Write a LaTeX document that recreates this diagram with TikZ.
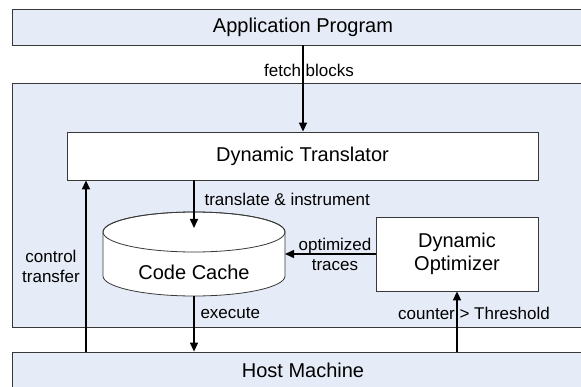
\documentclass[tikz,border=0pt]{standalone}
\usepackage{fontspec}
\setmainfont{Liberation Sans}
\usetikzlibrary{arrows.meta}

\definecolor{layerblue}{HTML}{E6ECF7}
\definecolor{boxline}{HTML}{383838}

\begin{document}
\begin{tikzpicture}[x=1pt,y=1pt,
    every node/.style={font=\fontsize{17}{20}\selectfont, align=center},
    bigtext/.style={font=\fontsize{20}{23}\selectfont},
    layer/.style={draw=boxline, line width=0.8pt, fill=layerblue,
      minimum width=582, minimum height=36, bigtext},
    unit/.style={draw=boxline, line width=0.8pt, fill=white, bigtext},
    flow/.style={line width=1.5pt, -{Triangle[length=9pt,width=8pt]}}]

  \useasboundingbox (0,0) rectangle (581,386);

  % ==================================================
  % Layers: program on top, machine at the bottom
  % ==================================================
  %    runtime layer in the middle (drawn first, it sits behind)
  \draw[draw=boxline, line width=0.8pt, fill=layerblue] (12,59) rectangle (594,303);

  \node[layer] (app) at (303,359) {Application Program};
  \node[layer] (host) at (303,16) {Host Machine};

  % ==================================================
  % Runtime parts
  % ==================================================
  \node[unit, minimum width=471, minimum height=48] (trans) at (302.5,230)
  {Dynamic Translator};
  \node[unit, minimum width=162, minimum height=74] (opt) at (457,132)
  {Dynamic\\Optimizer};

  % -- Code cache: a cylinder, rx=91, ry=20
  \draw[draw=boxline, line width=0.8pt, fill=white]
  (103,154) -- (103,110)
  arc[start angle=180, end angle=360, x radius=91, y radius=20]
  -- (285,154)
  arc[start angle=0, end angle=180, x radius=91, y radius=20] -- cycle;
  \draw[draw=boxline, line width=0.8pt] (194,154) ellipse[x radius=91, y radius=20];
  \node[bigtext] (cache) at (194,114) {Code Cache};

  %    ends of the arrows on the cylinder
  \coordinate (cachein) at (194,158);
  \coordinate (cacheout) at (194,90);
  \coordinate (cacheside) at (285,132);
  \coordinate (ctl) at (86,0);

  % ==================================================
  % Arrows & labels
  % ==================================================
  \draw[flow] (app.south) -- (app.south |- trans.north);
  \node (fetchlbl) at (309,316) {fetch blocks};

  \draw[flow] (trans.south -| cachein) -- (cachein);
  \node[anchor=west] (translbl) at (201,187) {translate \& instrument};

  \draw[flow] (opt.west) -- (cacheside);
  \node (tracelbl) at (335,132) {optimized\\traces};

  \draw[flow] (cacheout) -- (cacheout |- host.north);
  \node[anchor=west] (execlbl) at (197,73) {execute};

  \draw[flow] (host.north -| ctl) -- (trans.south -| ctl);
  \node (ctllbl) at (51,120) {control\\transfer};

  \draw[flow] (host.north -| opt) -- (opt.south);
  \node (countlbl) at (474,73) {counter > Threshold};

\end{tikzpicture}
\end{document}
